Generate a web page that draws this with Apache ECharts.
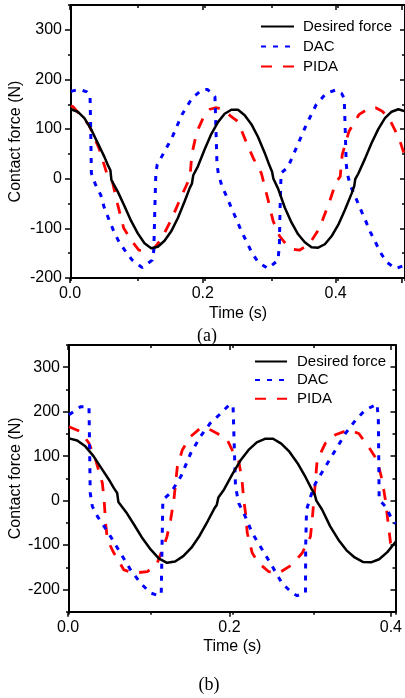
<!DOCTYPE html>
<html><head><meta charset="utf-8">
<script src="https://cdn.jsdelivr.net/npm/echarts@6/dist/echarts.min.js"></script>
<style>html,body{margin:0;padding:0;background:#fff}#c{width:405px;height:698px}</style>
</head><body><div id="c"></div>
<script>
const seriesNames = ['Desired force', 'DAC', 'PIDA'];
const xTickLabels = [0, 0.2, 0.4];
const yTickLabels = [-200, -100, 0, 100, 200, 300];

// Desired force (same reference signal in both panels)
const desiredT = [0, 0.01, 0.02, 0.03, 0.04, 0.05, 0.055, 0.059, 0.0605, 0.07, 0.08, 0.09, 0.10, 0.11, 0.12, 0.13, 0.14, 0.15, 0.16, 0.17, 0.178, 0.181, 0.183, 0.19, 0.20, 0.21, 0.22, 0.23, 0.24, 0.25, 0.26, 0.27, 0.28, 0.29, 0.297, 0.301, 0.303, 0.31, 0.32, 0.33, 0.34, 0.35, 0.36, 0.37, 0.38, 0.39, 0.40, 0.41, 0.42, 0.424, 0.4255, 0.43, 0.44, 0.45, 0.46, 0.47, 0.48, 0.49, 0.50];
const desiredF = [140, 135, 122, 100, 72, 44, 28, 17, -3, -26, -55, -85, -110, -130, -140, -137, -125, -106, -79, -46, -18, -10, 7, 25, 59, 90, 114, 131, 139, 139, 128, 110, 84, 52, 27, 14, 0, -20, -58, -88, -112, -128, -138, -139, -132, -116, -93, -63, -30, -15, -1, 10, 40, 72, 100, 122, 135, 140, 136];

// Panel (a)
const dacAT = [0, 0.012, 0.024, 0.0285, 0.0295, 0.0305, 0.037, 0.0446, 0.0495, 0.057, 0.0644, 0.0718, 0.082, 0.0917, 0.1066, 0.1215, 0.124, 0.1255, 0.127, 0.129, 0.136, 0.151, 0.166, 0.181, 0.196, 0.204, 0.211, 0.2155, 0.217, 0.2185, 0.2205, 0.2255, 0.233, 0.2405, 0.248, 0.2555, 0.263, 0.270, 0.280, 0.295, 0.310, 0.312, 0.313, 0.3145, 0.325, 0.337, 0.352, 0.367, 0.382, 0.397, 0.405, 0.409, 0.4105, 0.412, 0.4135, 0.418, 0.4255, 0.433, 0.4405, 0.448, 0.4555, 0.4625, 0.4725, 0.486, 0.500];
const dacAF = [176, 180, 175, 168, 100, 11, -13, -33, -57, -83, -107, -127, -147, -164, -179, -164, -144, -60, 11, 28, 45, 82, 129, 162, 179, 180, 172, 165, 100, 30, 11, -13, -36, -60, -83, -107, -127, -147, -168, -181, -164, -130, -60, 11, 24, 61, 108, 149, 172, 179, 172, 162, 100, 30, 11, -13, -36, -60, -83, -107, -127, -147, -168, -181, -174];
const pidaAT = [0, 0.003, 0.027, 0.042, 0.0545, 0.062, 0.0695, 0.079, 0.0917, 0.1016, 0.1115, 0.124, 0.136, 0.151, 0.166, 0.178, 0.181, 0.186, 0.191, 0.200, 0.208, 0.216, 0.225, 0.232, 0.240, 0.250, 0.262, 0.273, 0.285, 0.294, 0.3025, 0.312, 0.322, 0.331, 0.342, 0.357, 0.372, 0.387, 0.397, 0.403, 0.406, 0.416, 0.431, 0.446, 0.456, 0.466, 0.476, 0.491, 0.500];
const pidaAF = [147, 145, 108, 61, 7, -6, -50, -100, -127, -144, -145, -141, -120, -80, -33, 2, 50, 80, 102, 129, 140, 143, 141, 135, 125, 115, 75, 41, 11, -37, -85, -115, -132, -142, -144, -131, -100, -46, -6, 4, 48, 95, 129, 142, 143, 136, 122, 82, 45];

// Panel (b)
const dacBT = [0, 0.014, 0.0245, 0.025, 0.026, 0.0286, 0.035, 0.043, 0.051, 0.063, 0.0755, 0.0878, 0.100, 0.110, 0.113, 0.114, 0.115, 0.1245, 0.137, 0.149, 0.161, 0.173, 0.186, 0.196, 0.201, 0.202, 0.204, 0.208, 0.216, 0.2245, 0.237, 0.249, 0.261, 0.2735, 0.2795, 0.2897, 0.290, 0.291, 0.296, 0.302, 0.314, 0.3265, 0.3387, 0.351, 0.363, 0.3775, 0.379, 0.380, 0.3876, 0.396, 0.400];
const dacBF = [193, 211, 211, 150, 17, -13, -36, -58, -81, -118, -156, -186, -208, -214, -210, -100, 2, 17, 54, 106, 144, 174, 196, 215, 214, 150, 31, -6, -36, -73, -111, -148, -186, -208, -214, -207, -100, -21, 9, 39, 76, 114, 151, 181, 204, 217, 180, 2, -13, -43, -52];
const pidaBT = [0, 0.0143, 0.0245, 0.0327, 0.0409, 0.043, 0.0449, 0.047, 0.055, 0.0673, 0.0796, 0.096, 0.108, 0.116, 0.120, 0.1245, 0.1285, 0.1306, 0.1327, 0.1388, 0.149, 0.161, 0.1694, 0.1816, 0.194, 0.202, 0.208, 0.212, 0.214, 0.2163, 0.2184, 0.2245, 0.2326, 0.2448, 0.257, 0.2734, 0.2857, 0.2958, 0.298, 0.300, 0.302, 0.304, 0.3142, 0.3264, 0.3427, 0.355, 0.367, 0.3775, 0.3836, 0.3876, 0.391, 0.394, 0.398, 0.400];
const pidaBF = [166, 155, 129, 91, 39, 2, -51, -88, -118, -156, -163, -160, -141, -103, -81, -43, 2, 39, 76, 114, 144, 163, 163, 151, 136, 106, 88, 46, 2, -28, -73, -118, -141, -160, -163, -144, -118, -81, -43, 2, 46, 91, 129, 148, 159, 151, 121, 91, 46, 2, -51, -96, -111, -115];

const FONT = '"Liberation Sans", Arial, sans-serif';
const zip = (t, f) => t.map((v, i) => [v, f[i]]);
const desiredB = zip(desiredT, desiredF).filter(d => d[0] <= 0.41);

const panels = [
  { grid: { left: 70, top: 5, width: 336, height: 273 }, xMax: 0.5, yMin: -200, yMax: 350,
    legend: { left: 260, top: 19, itemWidth: 33, itemGap: 5, pad: 4 },
    caption: { text: '(a)', x: 207, y: 336 },
    xNameGap: 28, yNameGap: 47,
    data: [zip(desiredT, desiredF), zip(dacAT, dacAF), zip(pidaAT, pidaAF)] },
  { grid: { left: 68, top: 345, width: 327.5, height: 266.7 }, xMax: 0.4, yMin: -250, yMax: 350,
    legend: { left: 254, top: 354, itemWidth: 32, itemGap: 3.6, pad: 5 },
    caption: { text: '(b)', x: 209, y: 685 },
    xNameGap: 27, yNameGap: 45,
    data: [desiredB, zip(dacBT, dacBF), zip(pidaBT, pidaBF)] }
];

const styles = [
  { color: '#000000', width: 2.5, type: 'solid' },
  { color: '#0000ff', width: 3, type: [5, 7] },
  { color: '#ff0000', width: 2.8, type: [11, 11] }
];

function ax(o) {
  return Object.assign({
    type: 'value', splitLine: { show: false },
    axisLine: { show: true, onZero: false, lineStyle: { color: '#000', width: 2 } },
    axisTick: { show: true, inside: false, length: 3, lineStyle: { color: '#000', width: 1.5 } },
    axisLabel: { show: false }
  }, o);
}

const grids = [], xAxes = [], yAxes = [], series = [], legends = [], graphics = [];
const nameStyle = { fontSize: 16, color: '#000', fontFamily: FONT };
const labelStyle = { show: true, fontSize: 16, color: '#000', fontFamily: FONT };
const tick = (inside, len) => ({ show: true, inside: inside, length: len, lineStyle: { color: '#000', width: 1.5 } });
const noLine = { show: false, onZero: false };

panels.forEach(p => {
  const k = p.grid.height / (p.yMax - p.yMin);
  // main data grid (frame + minor ticks)
  const g0 = grids.length; grids.push(Object.assign({}, p.grid));
  const xi = xAxes.length;
  xAxes.push(ax({ gridIndex: g0, position: 'bottom', min: 0, max: p.xMax, interval: 0.1,
    name: 'Time (s)', nameLocation: 'middle', nameGap: p.xNameGap, nameTextStyle: nameStyle }));
  xAxes.push(ax({ gridIndex: g0, position: 'top', min: 0, max: p.xMax, interval: 0.1, axisTick: tick(true, 3) }));
  const yi = yAxes.length;
  yAxes.push(ax({ gridIndex: g0, position: 'left', min: p.yMin, max: p.yMax, interval: 50,
    name: 'Contact force (N)', nameLocation: 'middle', nameGap: p.yNameGap, nameTextStyle: nameStyle }));
  yAxes.push(ax({ gridIndex: g0, position: 'right', min: p.yMin, max: p.yMax, interval: 50, axisTick: tick(true, 3) }));
  // major x ticks grid
  const g1 = grids.length; grids.push(Object.assign({}, p.grid));
  xAxes.push(ax({ gridIndex: g1, position: 'bottom', min: 0, max: p.xMax, interval: 0.2,
    axisLine: noLine, axisTick: tick(false, 5),
    axisLabel: Object.assign({ margin: 8, formatter: v => xTickLabels.some(t => Math.abs(t - v) < 1e-9) ? v.toFixed(1) : '' }, labelStyle) }));
  xAxes.push(ax({ gridIndex: g1, position: 'top', min: 0, max: p.xMax, interval: 0.2,
    axisLine: noLine, axisTick: tick(true, 5) }));
  yAxes.push({ type: 'value', gridIndex: g1, min: p.yMin, max: p.yMax, show: false });
  // major y ticks grid (spans -200..300)
  const g2 = grids.length;
  grids.push({ left: p.grid.left, width: p.grid.width, top: p.grid.top + (p.yMax - 300) * k, height: 500 * k });
  xAxes.push({ type: 'value', gridIndex: g2, min: 0, max: p.xMax, show: false });
  yAxes.push(ax({ gridIndex: g2, position: 'left', min: -200, max: 300, interval: 100,
    axisLine: noLine, axisTick: tick(false, 5),
    axisLabel: Object.assign({ margin: 8, formatter: v => yTickLabels.includes(v) ? String(v) : '' }, labelStyle) }));
  yAxes.push(ax({ gridIndex: g2, position: 'right', min: -200, max: 300, interval: 100,
    axisLine: noLine, axisTick: tick(true, 5) }));

  p.data.forEach((d, i) => {
    series.push({ type: 'line', name: seriesNames[i], data: d, xAxisIndex: xi, yAxisIndex: yi,
      symbol: 'none', showSymbol: false, smooth: false, animation: false, clip: true,
      lineStyle: styles[i], itemStyle: { color: styles[i].color }, z: 5 - i });
  });

  legends.push({ data: seriesNames, orient: 'vertical', left: p.legend.left, top: p.legend.top, padding: 0,
    itemWidth: p.legend.itemWidth, itemHeight: 14, itemGap: p.legend.itemGap, selectedMode: false,
    itemStyle: { opacity: 0, borderWidth: 0 },
    textStyle: { fontSize: 15, color: '#000', fontFamily: FONT, lineHeight: 14, padding: [0, 0, 0, p.legend.pad] } });

  graphics.push({ type: 'text', x: p.caption.x, y: p.caption.y,
    style: { text: p.caption.text, fontSize: 18, fontFamily: '"Liberation Serif", "Times New Roman", serif', fill: '#000', align: 'center', verticalAlign: 'middle' } });
});

const chart = echarts.init(document.getElementById('c'), null, { renderer: 'canvas' });
chart.setOption({
  animation: false, backgroundColor: '#fff',
  grid: grids, xAxis: xAxes, yAxis: yAxes, series: series, legend: legends, graphic: graphics
});
</script></body></html>
